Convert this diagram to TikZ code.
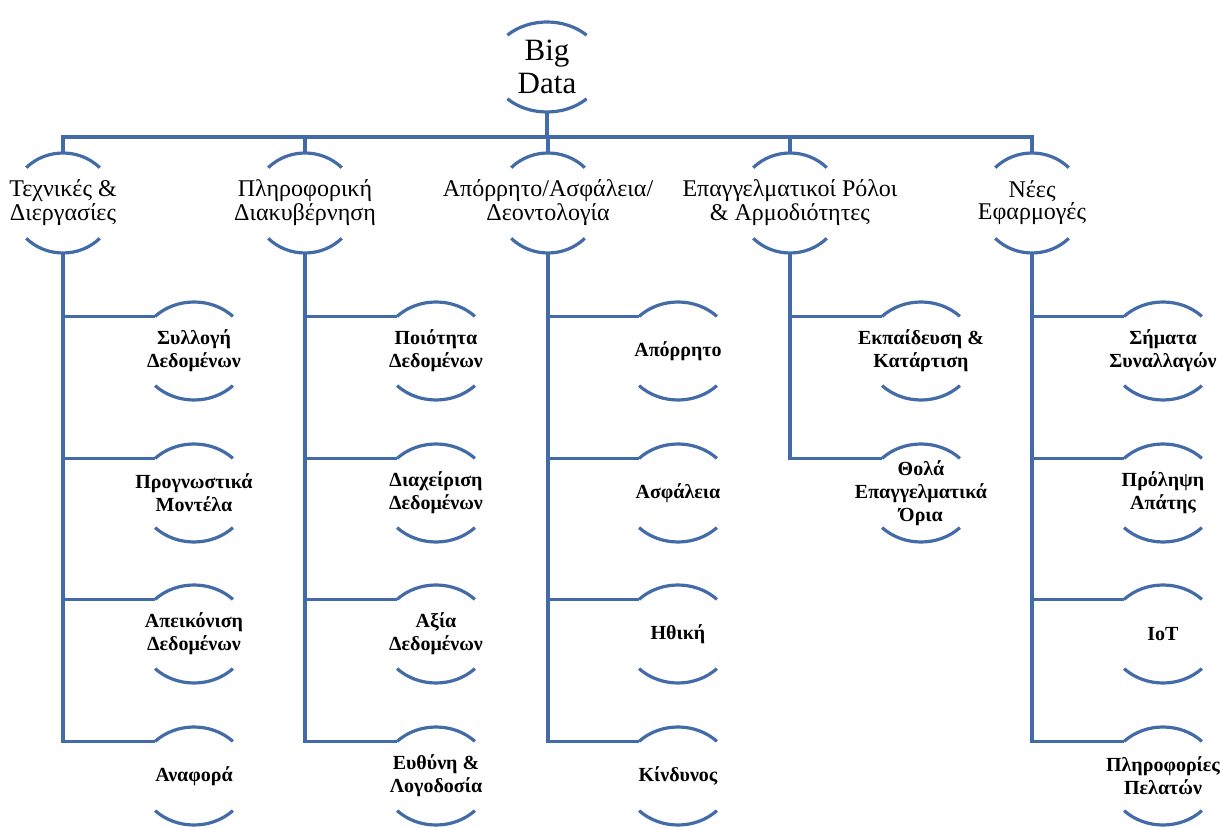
\documentclass[tikz,border=0pt]{standalone}
\usepackage{fontspec}
\setmainfont{Liberation Serif}
\usetikzlibrary{calc}
\definecolor{ln}{RGB}{66,107,168}
\newcommand\mybub[7]{%
  \node[#6] (#1) at (#2,-#3) {#7};
  \draw[arcline] (#1.center) ++(135:#4 and #5) arc[start angle=135,end angle=45,x radius=#4,y radius=#5];
  \draw[arcline] (#1.center) ++(225:#4 and #5) arc[start angle=225,end angle=315,x radius=#4,y radius=#5];
  \path (#1.center) ++(0,#5) coordinate (#1-t);
  \path (#1.center) ++(0,-#5) coordinate (#1-b);
  \path (#1.center) ++(135:#4 and #5) coordinate (#1-l);
}
\begin{document}
\begin{tikzpicture}[x=0.5pt,y=0.5pt,
  arcline/.style={draw=ln, line width=1.6pt},
  conn/.style={draw=ln, line width=1.6pt, line join=miter},
  bd/.style={inner sep=0pt, align=center, font=\fontsize{15.5}{16.5}\selectfont},
  lone/.style={inner sep=0pt, align=center, font=\fontsize{12}{11}\selectfont},
  ltwo/.style={inner sep=0pt, align=center, font=\bfseries\fontsize{10}{11.5}\selectfont}]
\useasboundingbox (0,0) rectangle (1221,-828);
\coordinate (bar) at (0,-137);
% top
\mybub{BD}{547}{67}{56}{45}{bd}{Big\\Data}
% level 1
\mybub{A}{63}{203}{52}{50}{lone}{Τεχνικές \&\\Διεργασίες}
\mybub{B}{305}{203}{52}{50}{lone}{Πληροφορική\\Διακυβέρνηση}
\mybub{C}{548}{203}{52}{50}{lone}{Απόρρητο/Ασφάλεια/\\Δεοντολογία}
\mybub{D}{790}{203}{52}{50}{lone}{Επαγγελματικοί Ρόλοι\\\& Αρμοδιότητες}
\mybub{E}{1032}{203}{52}{50}{lone}{Νέες\\Εφαρμογές}
% column A
\mybub{A1}{194}{351}{55}{49}{ltwo}{Συλλογή\\Δεδομένων}
\mybub{A2}{194}{493}{55}{49}{ltwo}{Προγνωστικά\\Μοντέλα}
\mybub{A3}{194}{634}{55}{49}{ltwo}{Απεικόνιση\\Δεδομένων}
\mybub{A4}{194}{776}{55}{49}{ltwo}{Αναφορά}
% column B
\mybub{B1}{436}{351}{55}{49}{ltwo}{Ποιότητα\\Δεδομένων}
\mybub{B2}{436}{493}{55}{49}{ltwo}{Διαχείριση\\Δεδομένων}
\mybub{B3}{436}{634}{55}{49}{ltwo}{Αξία\\Δεδομένων}
\mybub{B4}{436}{776}{55}{49}{ltwo}{Ευθύνη \&\\Λογοδοσία}
% column C
\mybub{C1}{678}{351}{55}{49}{ltwo}{Απόρρητο}
\mybub{C2}{678}{493}{55}{49}{ltwo}{Ασφάλεια}
\mybub{C3}{678}{634}{55}{49}{ltwo}{Ηθική}
\mybub{C4}{678}{776}{55}{49}{ltwo}{Κίνδυνος}
% column D
\mybub{D1}{921}{351}{55}{49}{ltwo}{Εκπαίδευση \&\\Κατάρτιση}
\mybub{D2}{921}{493}{55}{49}{ltwo}{Θολά\\Επαγγελματικά\\Όρια}
% column E
\mybub{E1}{1163}{351}{55}{49}{ltwo}{Σήματα\\Συναλλαγών}
\mybub{E2}{1163}{493}{55}{49}{ltwo}{Πρόληψη\\Απάτης}
\mybub{E3}{1163}{634}{55}{49}{ltwo}{IoT}
\mybub{E4}{1163}{776}{55}{49}{ltwo}{Πληροφορίες\\Πελατών}
% top connectors
\draw[conn] (BD-b) -- (BD-b |- bar);
\draw[conn] (A-t) -- (A-t |- bar) -- (E-t |- bar) -- (E-t);
\foreach \n in {B,C,D} \draw[conn] (\n-t) -- (\n-t |- bar);
% trunks
\foreach \n in {A,B,C,E} {
  \draw[conn] (\n-b) |- (\n4-l);
  \foreach \k in {1,2,3} \draw[conn] (\n-b |- \n\k-l) -- (\n\k-l);
}
\draw[conn] (D-b) |- (D2-l);
\draw[conn] (D-b |- D1-l) -- (D1-l);
\end{tikzpicture}
\end{document}
